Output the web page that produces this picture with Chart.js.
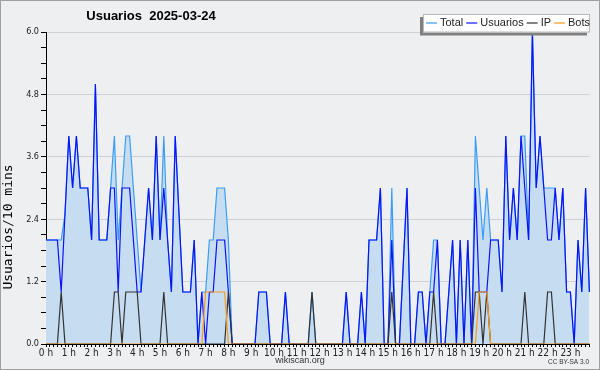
<!DOCTYPE html>
<html>
<head>
<meta charset="utf-8">
<script src="https://cdn.jsdelivr.net/npm/chart.js@4.4.1/dist/chart.umd.min.js"></script>
<style>
  html, body { margin: 0; padding: 0; background: #eeeff1; }
  #wrap { width: 600px; height: 370px; }
</style>
</head>
<body>
<div id="wrap"><canvas id="chart" width="600" height="370"></canvas></div>
<script>
const chartTitle = 'Usuarios  2025-03-24';
const yTitle = 'Usuarios/10 mins';
const hourLabels = ['0 h','1 h','2 h','3 h','4 h','5 h','6 h','7 h','8 h','9 h','10 h','11 h',
  '12 h','13 h','14 h','15 h','16 h','17 h','18 h','19 h','20 h','21 h','22 h','23 h'];

// one value per 10 minutes, 144 slots
const total = [
  2,2,2,2,2,2.5,4,3,4,3,
  3,3,2,5,2,2,2,3,4,2,
  3,4,4,3,2,1,2,3,2,4,
  2,4,2,1,4,2.5,1,1,1,2,
  0,1,1,2,2,3,3,3,2,0,
  0,0,0,0,0,0,1,1,1,0,
  0,0,0,1,0,0,0,0,0,0,
  1,0,0,0,0,0,0,0,0,1,
  0,0,0,1,0,2,2,2,3,0,
  0,3,0,0,1.5,3,0,0,1,1,
  0,1,2,2,0,0,1,2,0,2,
  0,2,0,4,3,2,3,2,2,2,
  1,4,2,3,2,4,4,2,6,3,
  4,3,3,3,3,2,3,1,1,0,
  2,1,3,1
];
const usuarios = [
  2,2,2,2,1,2.5,4,3,4,3,
  3,3,2,5,2,2,2,3,3,1,
  3,3,3,2,1,1,2,3,2,4,
  2,3,2,1,4,2.5,1,1,1,2,
  0,1,0,1,1,2,2,2,1,0,
  0,0,0,0,0,0,1,1,1,0,
  0,0,0,1,0,0,0,0,0,0,
  0,0,0,0,0,0,0,0,0,1,
  0,0,0,1,0,2,2,2,3,0,
  0,2,0,0,1.5,3,0,0,1,1,
  0,1,1,2,0,0,1,2,0,2,
  0,2,0,3,1,1,1,2,2,2,
  1,4,2,3,2,4,3,2,6,3,
  4,3,2,2,3,2,3,1,1,0,
  2,1,3,1
];
const ip = [
  0,0,0,0,1,0,0,0,0,0,
  0,0,0,0,0,0,0,0,1,1,
  0,1,1,1,1,0,0,0,0,0,
  0,1,0,0,0,0,0,0,0,0,
  0,0,0,0,0,0,0,0,1,0,
  0,0,0,0,0,0,0,0,0,0,
  0,0,0,0,0,0,0,0,0,0,
  1,0,0,0,0,0,0,0,0,0,
  0,0,0,0,0,0,0,0,0,0,
  0,1,0,0,0,0,0,0,0,0,
  0,0,1,0,0,0,0,0,0,0,
  0,0,0,1,1,0,1,0,0,0,
  0,0,0,0,0,0,1,0,0,0,
  0,0,1,1,0,0,0,0,0,0,
  0,0,0,0
];
const bots = [
  0,0,0,0,0,0,0,0,0,0,
  0,0,0,0,0,0,0,0,0,0,
  0,0,0,0,0,0,0,0,0,0,
  0,0,0,0,0,0,0,0,0,0,
  0,0,1,1,1,1,1,1,0,0,
  0,0,0,0,0,0,0,0,0,0,
  0,0,0,0,0,0,0,0,0,0,
  0,0,0,0,0,0,0,0,0,0,
  0,0,0,0,0,0,0,0,0,0,
  0,0,0,0,0,0,0,0,0,0,
  0,0,0,0,0,0,0,0,0,0,
  0,0,0,0,1,1,1,0,0,0,
  0,0,0,0,0,0,0,0,0,0,
  0,0,0,0,0,0,0,0,0,0,
  0,0,0,0
];

// slot labels: hour label on the hour, blank otherwise
const labels = total.map((v, i) => (i % 6 === 0 ? hourLabels[i / 6] : ''));

const isMajor = (v) => Math.abs(v / 1.2 - Math.round(v / 1.2)) < 1e-6;
const smallFont = '"Liberation Sans Narrow", "DejaVu Sans Condensed", "Liberation Sans", sans-serif';

// background, frame, titles, footer and the boxed legend
const decor = {
  id: 'decor',
  beforeDraw(chart) {
    const c = chart.ctx;
    c.save();
    c.fillStyle = '#eeeff1';
    c.fillRect(0, 0, chart.width, chart.height);
    c.restore();
  },
  afterDraw(chart) {
    const c = chart.ctx;
    c.save();
    c.strokeStyle = '#a0a0a0';
    c.lineWidth = 1;
    c.strokeRect(0.5, 0.5, chart.width - 1, chart.height - 1);

    c.fillStyle = '#000';
    c.font = 'bold 13px "Liberation Sans", sans-serif';
    c.textAlign = 'center';
    c.textBaseline = 'middle';
    c.fillText(chartTitle, 151, 16);

    // y axis title, placed like the original (below middle)
    c.save();
    c.translate(9, 227);
    c.rotate(-Math.PI / 2);
    c.font = '13px "DejaVu Sans Mono", monospace';
    c.fillText(yTitle, 0, 0);
    c.restore();

    c.font = '9px "Liberation Sans", sans-serif';
    c.fillStyle = '#333';
    c.fillText('wikiscan.org', 300, 361);
    c.font = '6.5px "Liberation Sans", sans-serif';
    c.textAlign = 'right';
    c.fillText('CC BY-SA 3.0', 589, 362);

    // legend box with shadow
    const bx = 423, by = 14, bw = 167, bh = 18.5;
    c.fillStyle = '#808080';
    c.fillRect(bx - 3, by + 3, bw, bh);
    c.fillStyle = '#fff';
    c.fillRect(bx, by, bw, bh);
    c.strokeStyle = '#b8b8b8';
    c.strokeRect(bx + 0.5, by + 0.5, bw - 1, bh - 1);
    c.font = '11px "Liberation Sans", sans-serif';
    c.textAlign = 'left';
    c.textBaseline = 'middle';
    let x = bx + 3;
    const y = by + 9;
    chart.data.datasets.forEach((ds) => {
      c.strokeStyle = ds.borderColor;
      c.lineWidth = 1.2;
      c.beginPath();
      c.moveTo(x, y);
      c.lineTo(x + 11, y);
      c.stroke();
      c.fillStyle = '#222';
      c.fillText(ds.label, x + 14, y);
      x += 14 + c.measureText(ds.label).width + 3;
    });
    c.restore();
  }
};

new Chart(document.getElementById('chart'), {
  type: 'line',
  data: {
    labels: labels,
    datasets: [
      { label: 'Total', data: total, borderColor: '#3a9cf5', backgroundColor: '#c6dcf1',
        fill: 'origin', order: 4 },
      { label: 'Usuarios', data: usuarios, borderColor: '#0a14f5', order: 3 },
      { label: 'IP', data: ip, borderColor: '#333333', order: 2 },
      { label: 'Bots', data: bots, borderColor: '#ff9a1a', order: 1 }
    ]
  },
  options: {
    responsive: false,
    animation: false,
    layout: { padding: { top: 32, right: 10.6, left: 0, bottom: 0 } },
    elements: {
      point: { radius: 0 },
      line: { borderWidth: 1.2, tension: 0 }
    },
    plugins: {
      legend: { display: false },
      tooltip: { enabled: false }
    },
    scales: {
      x: {
        offset: false,
        afterFit: (s) => { s.height = 26; },
        border: { color: '#000', width: 1 },
        grid: { drawOnChartArea: false, tickLength: 3, color: '#000' },
        ticks: {
          autoSkip: false, maxRotation: 0, padding: 0,
          color: '#222',
          font: { family: smallFont, size: 10 }
        }
      },
      y: {
        min: 0,
        max: 6,
        afterFit: (s) => { s.width = 46; },
        border: { color: '#000', width: 1 },
        grid: {
          tickLength: 5,
          color: (ctx) => (ctx.tick && isMajor(ctx.tick.value) ? '#cfd0d3' : 'rgba(0,0,0,0)'),
          tickColor: '#000'
        },
        ticks: {
          stepSize: 0.3,
          autoSkip: false,
          padding: 2,
          color: '#222',
          font: { family: smallFont, size: 9 },
          callback: (v) => (isMajor(v) ? v.toFixed(1) : '')
        }
      }
    }
  },
  plugins: [decor]
});
</script>
</body>
</html>
